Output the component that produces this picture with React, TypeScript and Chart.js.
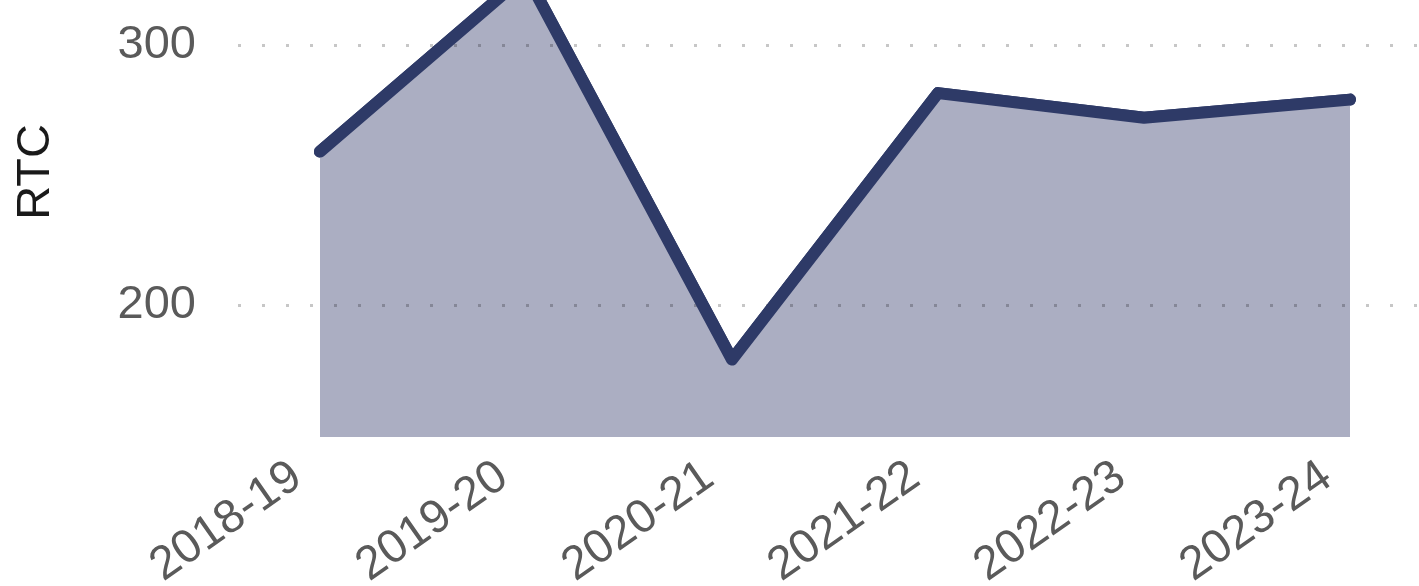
import { useEffect, useRef } from "react";
import { Chart, registerables } from "chart.js";

Chart.register(...registerables);

const categories = ["2018-19", "2019-20", "2020-21", "2021-22", "2022-23", "2023-24"];
const rtcValues = [259, 327, 179, 281.5, 272, 279];
const yTickValues = [200, 300];

const FONT = "'Liberation Sans', Arial, Helvetica, sans-serif";

export default function App() {
  const ref = useRef<HTMLCanvasElement>(null);

  useEffect(() => {
    document.body.style.margin = "0";
    const points = rtcValues.map((v, i) => ({ x: i, y: v }));
    const chart = new Chart(ref.current as HTMLCanvasElement, {
      type: "line",
      data: {
        datasets: [
          {
            data: points,
            fill: "start",
            backgroundColor: "#abaec2",
            borderWidth: 0,
            pointRadius: 0,
          },
          {
            data: points,
            fill: false,
            borderColor: "#2e3a67",
            borderWidth: 12,
            pointRadius: 0,
            borderCapStyle: "round",
            borderJoinStyle: "round",
          },
        ],
      },
      options: {
        animation: false,
        responsive: false,
        layout: { padding: 0 },
        plugins: { legend: { display: false }, tooltip: { enabled: false } },
        scales: {
          x: {
            type: "linear",
            min: -0.398,
            max: 5.335,
            afterBuildTicks: (s: any) => {
              s.ticks = categories.map((_, i) => ({ value: i }));
            },
            afterFit: (s: any) => {
              s.height = 149;
              s.paddingLeft = 0;
              s.paddingRight = 0;
            },
            grid: { display: false },
            border: { display: false },
            ticks: {
              callback: (v: any) => categories[v as number],
              minRotation: 35,
              maxRotation: 35,
              autoSkip: false,
              padding: 4,
              labelOffset: -23,
              color: "#5a5a5a",
              font: { family: FONT, size: 47 },
            },
          },
          y: {
            min: 149.23,
            max: 353.08,
            afterBuildTicks: (s: any) => {
              s.ticks = yTickValues.map((v) => ({ value: v }));
            },
            afterFit: (s: any) => {
              s.width = 238;
              s.paddingTop = 0;
              s.paddingBottom = 0;
            },
            grid: {
              color: "rgba(0,0,0,0.22)",
              lineWidth: 3,
              drawTicks: false,
              z: 1,
            },
            border: { display: false, dash: [3, 21] },
            ticks: {
              padding: 42,
              color: "#5a5a5a",
              font: { family: FONT, size: 47 },
            },
            title: {
              display: true,
              text: "RTC",
              color: "#1a1a1a",
              padding: { top: 8, bottom: 0 },
              font: { family: FONT, size: 47 },
            },
          },
        },
      },
      plugins: [
        {
          id: "lineOnTop",
          afterDraw(c: any) {
            c.getDatasetMeta(1).controller.draw();
          },
        },
      ],
    });
    return () => chart.destroy();
  }, []);

  return (
    <div style={{ width: 1419, height: 586, overflow: "hidden", position: "relative" }}>
      <canvas
        ref={ref}
        width={1419}
        height={679}
        style={{ position: "absolute", top: -93, left: 0 }}
      />
    </div>
  );
}
